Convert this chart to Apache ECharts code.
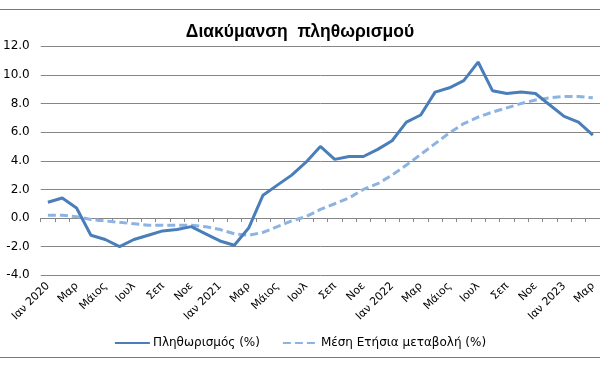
<!DOCTYPE html>
<html>
<head>
<meta charset="utf-8">
<script src="https://cdn.jsdelivr.net/npm/echarts@6/dist/echarts.min.js"></script>
<style>
html,body{margin:0;padding:0;background:#fff;}
#chart{width:600px;height:367px;}
</style>
</head>
<body>
<div id="chart"></div>
<script>
var categories = [
  'Ιαν 2020','Φεβ','Μαρ','Απρ','Μάιος','Ιουν','Ιουλ','Αυγ','Σεπ','Οκτ','Νοε','Δεκ',
  'Ιαν 2021','Φεβ','Μαρ','Απρ','Μάιος','Ιουν','Ιουλ','Αυγ','Σεπ','Οκτ','Νοε','Δεκ',
  'Ιαν 2022','Φεβ','Μαρ','Απρ','Μάιος','Ιουν','Ιουλ','Αυγ','Σεπ','Οκτ','Νοε','Δεκ',
  'Ιαν 2023','Φεβ','Μαρ'
];
var inflation = [1.1,1.4,0.7,-1.2,-1.5,-2.0,-1.5,-1.2,-0.9,-0.8,-0.6,-1.1,
  -1.6,-1.9,-0.7,1.6,2.3,3.0,3.9,5.0,4.1,4.3,4.3,4.8,
  5.4,6.7,7.2,8.8,9.1,9.6,10.9,8.9,8.7,8.8,8.7,7.9,
  7.1,6.7,5.8];
var annualAvg = [0.2,0.2,0.1,-0.1,-0.2,-0.3,-0.4,-0.5,-0.5,-0.5,-0.5,-0.6,
  -0.8,-1.1,-1.2,-1.0,-0.6,-0.2,0.1,0.6,1.0,1.4,2.0,2.4,
  3.0,3.7,4.45,5.2,5.95,6.6,7.05,7.4,7.7,8.0,8.25,8.4,
  8.5,8.5,8.4];
var seriesNames = ['Πληθωρισμός (%)','Μέση Ετήσια μεταβολή (%)'];
var titleText = 'Διακύμανση  πληθωρισμού';

var chart = echarts.init(document.getElementById('chart'), null, {renderer:'canvas'});
var font = 'DejaVu Sans';
chart.setOption({
  animation:false,
  backgroundColor:'#ffffff',
  title:{
    text:titleText,
    left:'center',
    top:18,
    textStyle:{fontFamily:'Liberation Sans',fontWeight:'bold',fontSize:17.5,color:'#000'}
  },
  legend:{
    bottom:13,
    left:'center',
    itemWidth:35,
    itemHeight:12,
    itemGap:22,
    textStyle:{fontFamily:font,fontSize:12,color:'#000',padding:[0,0,0,-2]},
    itemStyle:{opacity:0,borderWidth:0},
    data:seriesNames
  },
  grid:{left:34,right:-6,top:46.3,bottom:91.7,containLabel:false},
  xAxis:[{
    type:'category',
    data:categories,
    boundaryGap:true,
    axisLine:{onZero:true,lineStyle:{color:'#868686',width:1}},
    axisTick:{show:true,length:4,inside:false,interval:0,lineStyle:{color:'#868686'}},
    axisLabel:{show:false},
    splitLine:{show:false}
  },{
    type:'category',
    data:categories,
    position:'bottom',
    boundaryGap:true,
    axisLine:{show:false,onZero:false},
    axisTick:{show:false},
    axisLabel:{show:true,interval:1,rotate:45,margin:9,fontFamily:font,fontSize:11,color:'#000'},
    splitLine:{show:false}
  }],
  yAxis:{
    type:'value',
    min:-4,max:12,interval:2,
    axisLine:{show:false},
    axisTick:{show:false},
    axisLabel:{margin:11,fontFamily:font,fontSize:12,color:'#000',formatter:function(v){return v.toFixed(1);}},
    splitLine:{lineStyle:{color:'#868686',width:1}}
  },
  series:[{
    name:seriesNames[0],
    type:'line',
    data:inflation,
    xAxisIndex:0,
    symbol:'none',
    lineStyle:{color:'#4a7ebb',width:3},
    itemStyle:{color:'#4a7ebb'},
    z:3
  },{
    name:seriesNames[1],
    type:'line',
    data:annualAvg,
    xAxisIndex:0,
    symbol:'none',
    lineStyle:{color:'#8db3e2',width:3,type:[8,4]},
    itemStyle:{color:'#8db3e2'},
    z:2
  }],
  graphic:[
    {type:'line',shape:{x1:0,y1:9.5,x2:600,y2:9.5},style:{stroke:'#4f81bd',lineWidth:1}},
    {type:'line',shape:{x1:0,y1:357.5,x2:600,y2:357.5},style:{stroke:'#4f81bd',lineWidth:1}}
  ]
});
</script>
</body>
</html>
